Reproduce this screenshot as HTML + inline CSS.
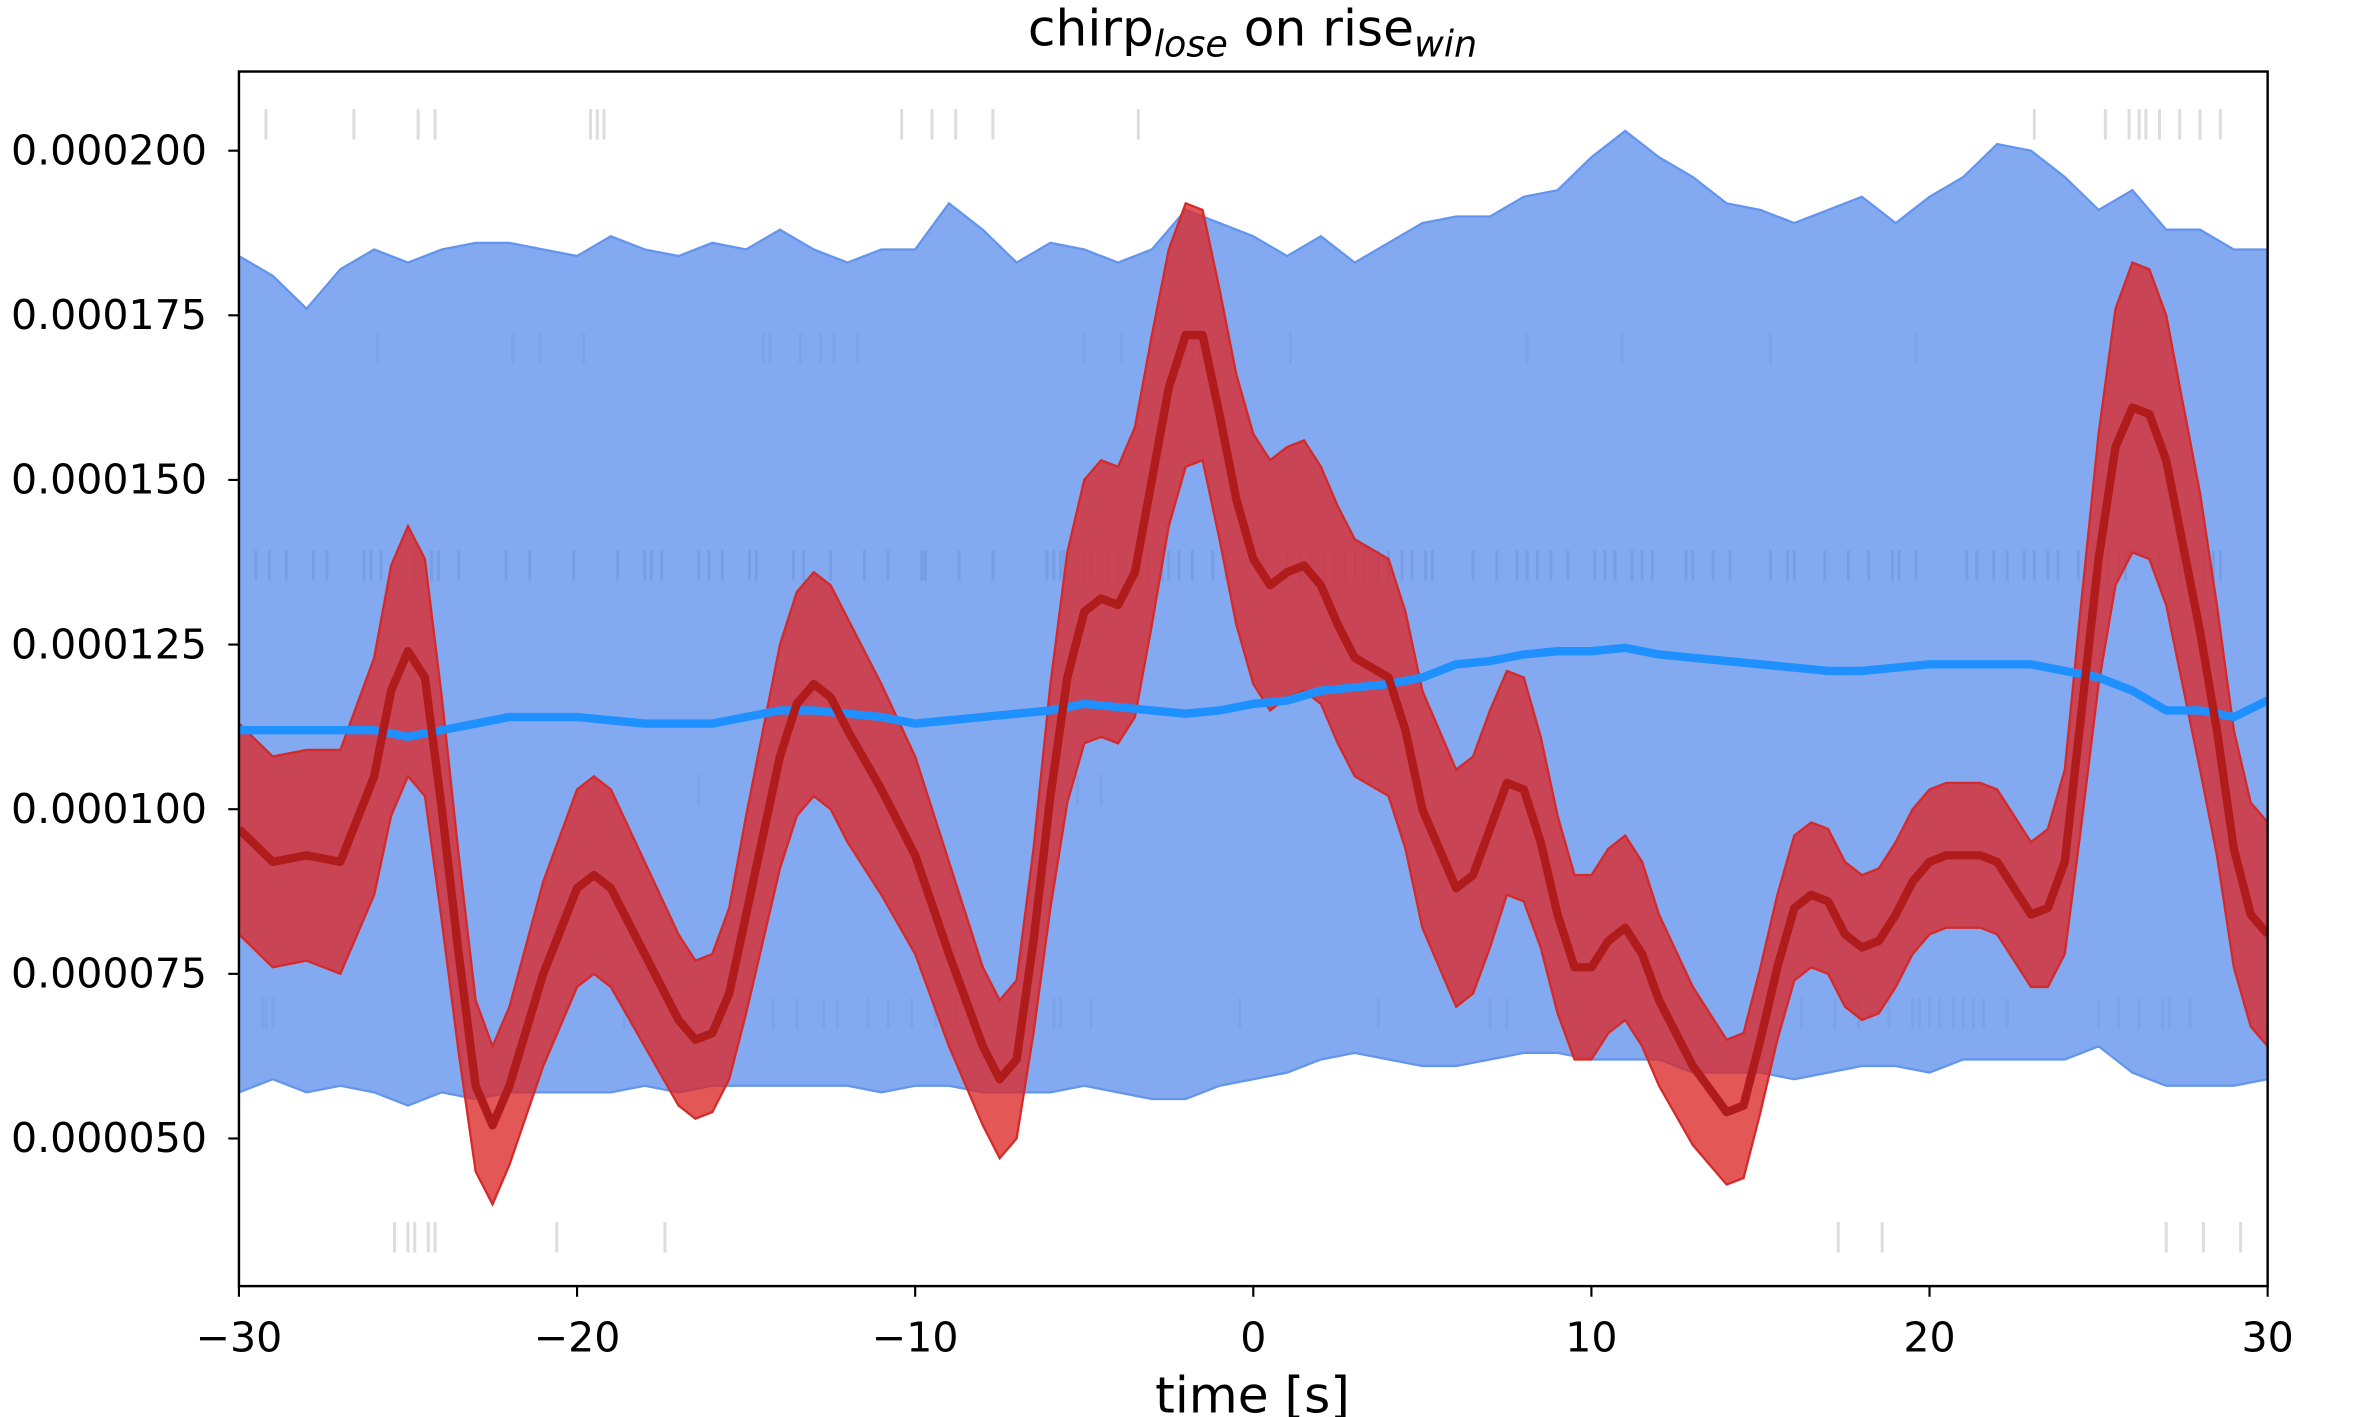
<!DOCTYPE html>
<html><head><meta charset="utf-8"><style>
html,body{margin:0;padding:0;background:#fff}
svg{display:block}
text{font-family:"DejaVu Sans","Liberation Sans",sans-serif;fill:#000}
</style></head><body>
<svg id="chart" width="2362" height="1417" viewBox="0 0 1552 931" preserveAspectRatio="none" xmlns="http://www.w3.org/2000/svg">
<rect x="0" y="0" width="1552" height="931" fill="#fff"/>
<g id="rasters"></g>
<g id="series"></g>
<rect x="157" y="47" width="1333" height="798" fill="none" stroke="#000" stroke-width="1.6"/>
<g id="axes"></g>
<text x="823" y="30" font-size="33" text-anchor="middle">chirp<tspan font-size="24" font-style="italic" dy="7">lose</tspan><tspan dy="-7"> on rise</tspan><tspan font-size="24" font-style="italic" dy="7">win</tspan></text>
<text x="823" y="928" font-size="33" text-anchor="middle">time [s]</text>
</svg>
<script>
// ---- data (values in units of 1e-6) ----
const blueT = [-30,-29,-28,-27,-26,-25,-24,-23,-22,-21,-20,-19,-18,-17,-16,-15,-14,-13,-12,-11,-10,-9,-8,-7,-6,-5,-4,-3,-2,-1,0,1,2,3,4,5,6,7,8,9,10,11,12,13,14,15,16,17,18,19,20,21,22,23,24,25,26,27,28,29,30];
const blueMean = [112,112,112,112,112,111,112,113,114,114,114,113.5,113,113,113,114,115,115,114.5,114,113,113.5,114,114.5,115,116,115.5,115,114.5,115,116,116.5,118,118.5,119,120,122,122.5,123.5,124,124,124.5,123.5,123,122.5,122,121.5,121,121,121.5,122,122,122,122,121,120,118,115,115,114,116.5];
const blueUpper = [184,181,176,182,185,183,185,186,186,185,184,187,185,184,186,185,188,185,183,185,185,192,188,183,186,185,183,185,191,189,187,184,187,183,186,189,190,190,193,194,199,203,199,196,192,191,189,191,193,189,193,196,201,200,196,191,194,188,188,185,185];
const blueLower = [57,59,57,58,57,55,57,56,57,57,57,57,58,57,58,58,58,58,58,57,58,58,57,57,57,58,57,56,56,58,59,60,62,63,62,61,61,62,63,63,62,62,62,60,60,60,59,60,61,61,60,62,62,62,62,64,60,58,58,58,59];

const redT = [-30,-29,-28,-27,-26,-25.5,-25,-24.5,-24,-23.5,-23,-22.5,-22,-21,-20,-19.5,-19,-18,-17,-16.5,-16,-15.5,-15,-14,-13.5,-13,-12.5,-12,-11,-10,-9,-8,-7.5,-7,-6.5,-6,-5.5,-5,-4.5,-4,-3.5,-3,-2.5,-2,-1.5,-1,-0.5,0,0.5,1,1.5,2,2.5,3,4,4.5,5,6,6.5,7,7.5,8,8.5,9,9.5,10,10.5,11,11.5,12,13,14,14.5,15,15.5,16,16.5,17,17.5,18,18.5,19,19.5,20,20.5,21,21.5,22,22.5,23,23.5,24,24.5,25,25.5,26,26.5,27,28,28.5,29,29.5,30];
const redMean = [97,92,93,92,105,118,124,120,100,78,58,52,58,75,88,90,88,78,68,65,66,72,84,108,116,119,117,112,103,93,78,64,59,62,80,102,120,130,132,131,136,150,164,172,172,160,147,138,134,136,137,134,128,123,120,112,100,88,90,97,104,103,95,84,76,76,80,82,78,71,61,54,55,65,76,85,87,86,81,79,80,84,89,92,93,93,93,92,88,84,85,92,115,138,155,161,160,153,127,112,94,84,81];
const redHalf = [16,16,16,17,18,19,19,18,17,15,13,12,12,14,15,15,15,14,13,12,12,13,15,17,17,17,17,17,16,15,14,12,12,12,14,17,19,20,21,21,22,22,21,20,19,19,19,19,19,19,19,18,18,18,18,18,18,18,18,18,17,17,16,15,14,14,14,14,14,13,12,11,11,11,11,11,11,11,11,11,11,11,11,11,11,11,11,11,11,11,12,14,17,19,21,22,22,22,21,19,18,17,17];

const rasterRows = [204,170,137,103,69,35];
const raster0 = [-29.2,-26.6,-24.7,-24.2,-19.6,-19.4,-19.2,-10.4,-9.5,-8.8,-7.7,-3.4,23.1,25.2,25.9,26.2,26.4,26.8,27.4,28.0,28.6];
const raster1 = [-25.9,-21.9,-21.1,-19.8,-14.5,-14.3,-13.4,-12.8,-12.4,-11.7,-5.0,-3.9,-2.0,-1.8,-1.6,-0.8,1.1,8.1,10.9,15.3,19.6];
const raster2 = [-29.5,-29.1,-28.6,-27.8,-27.4,-26.3,-26.1,-25.8,-24.8,-24.3,-24.1,-23.5,-22.1,-21.4,-20.1,-18.8,-18.0,-17.8,-17.5,-16.4,-16.1,-15.7,-14.9,-14.7,-13.6,-13.3,-12.5,-11.5,-10.8,-9.8,-9.7,-8.7,-7.7,-6.1,-5.9,-5.7,-5.6,-5.0,-4.8,-4.3,-4.0,-3.4,-3.1,-2.7,-2.5,-2.2,-1.8,-1.2,-0.8,0.3,1.0,1.4,1.7,2.1,2.4,2.7,3.0,3.3,3.7,4.0,4.4,4.7,5.1,5.3,6.5,7.2,7.8,8.1,8.4,8.8,9.3,10.1,10.4,10.7,11.2,11.5,11.8,12.8,13.0,13.6,14.1,15.3,15.8,16.0,16.9,17.6,18.2,18.9,19.1,19.6,21.1,21.4,21.9,22.3,22.8,23.1,23.5,23.8,24.4,25.0,25.3,25.6,25.8,26.8,27.4,28.1,28.4,28.6];
const raster3 = [-16.4,-13.7,-13.0,-5.2,-4.5,28.5];
const raster4 = [-29.3,-29.2,-29.0,-18.6,-18.4,-14.2,-13.5,-12.7,-12.3,-11.4,-10.8,-10.1,-9.4,-8.8,-8.2,-5.9,-5.7,-4.8,-0.4,3.7,7.0,7.5,16.2,17.2,17.9,18.8,19.5,19.7,20.0,20.3,20.7,21.0,21.3,21.6,22.3,25.0,25.6,26.2,26.9,27.1,27.7];
const raster5 = [-25.4,-25.0,-24.8,-24.4,-24.2,-20.6,-17.4,17.3,18.6,27.0,28.1,29.2];

const xTicks = [-30,-20,-10,0,10,20,30];
const xTickLabels = ["\u221230","\u221220","\u221210","0","10","20","30"];
const yTicks = [50,75,100,125,150,175,200];
const yTickLabels = ["0.000050","0.000075","0.000100","0.000125","0.000150","0.000175","0.000200"];

// ---- scales ----
const X0=157,X1=1490,Y0=47,Y1=845;
function sx(t){return X0+(t+30)/60*(X1-X0);}
function sy(v){return 99+(200-v)*(748-99)/150;}
const NS="http://www.w3.org/2000/svg";
function mk(tag,attrs,parent){const e=document.createElementNS(NS,tag);for(const k in attrs)e.setAttribute(k,attrs[k]);parent.appendChild(e);return e;}
function lineD(ts,vs){return ts.map((t,i)=>(i?"L":"M")+sx(t).toFixed(2)+","+sy(vs[i]).toFixed(2)).join("");}
function bandD(ts,up,lo){let d=lineD(ts,up);for(let i=ts.length-1;i>=0;i--)d+="L"+sx(ts[i]).toFixed(2)+","+sy(lo[i]).toFixed(2);return d+"Z";}

const series=document.getElementById('series');
const clip=mk('clipPath',{id:'pc'},series);mk('rect',{x:X0,y:Y0,width:X1-X0,height:Y1-Y0},clip);
const g=mk('g',{'clip-path':'url(#pc)'},series);

const rg=document.getElementById('rasters');
const rasters=[raster0,raster1,raster2,raster3,raster4,raster5];
rasters.forEach((arr,ri)=>{
  arr.forEach(t=>{
    const l=mk('line',{x1:sx(t),x2:sx(t),y1:sy(rasterRows[ri])-10,y2:sy(rasterRows[ri])+10,stroke:'#777','stroke-width':2,'stroke-opacity':ri===2?0.45:0.25},rg);
    
    
  });
});

const bb=mk('path',{d:bandD(blueT,blueUpper,blueLower),fill:'#6495ed','fill-opacity':0.8,stroke:'#6495ed','stroke-width':1.5},g);


const redLo=redMean.map((m,i)=>m-redHalf[i]);
const redUp=redMean.map((m,i)=>m+redHalf[i]);
const rb=mk('path',{d:bandD(redT,redUp,redLo),fill:'#dc2828','fill-opacity':0.78,stroke:'#d42a2a','stroke-width':1.5},g);


const bl=mk('path',{d:lineD(blueT,blueMean),fill:'none',stroke:'#1e90ff','stroke-width':5.5,'stroke-linejoin':'round'},g);


const rl=mk('path',{d:lineD(redT,redMean),fill:'none',stroke:'#b01c1c','stroke-width':5.5,'stroke-linejoin':'round'},g);



const ax=document.getElementById('axes');
xTicks.forEach((t,i)=>{
  const tk=mk('line',{x1:sx(t),x2:sx(t),y1:Y1,y2:Y1+7,stroke:'#000','stroke-width':1.4},ax);
  
  
  const tx=mk('text',{x:sx(t),y:Y1+43,'font-size':27,'text-anchor':'middle'},ax);
  tx.textContent=xTickLabels[i];
  
  
});
yTicks.forEach((v,i)=>{
  const tk=mk('line',{x1:X0-7,x2:X0,y1:sy(v),y2:sy(v),stroke:'#000','stroke-width':1.4},ax);
  
  
  const tx=mk('text',{x:X0-21,y:sy(v)+9,'font-size':27,'text-anchor':'end'},ax);
  tx.textContent=yTickLabels[i];
  
  
});
</script>
</body></html>
